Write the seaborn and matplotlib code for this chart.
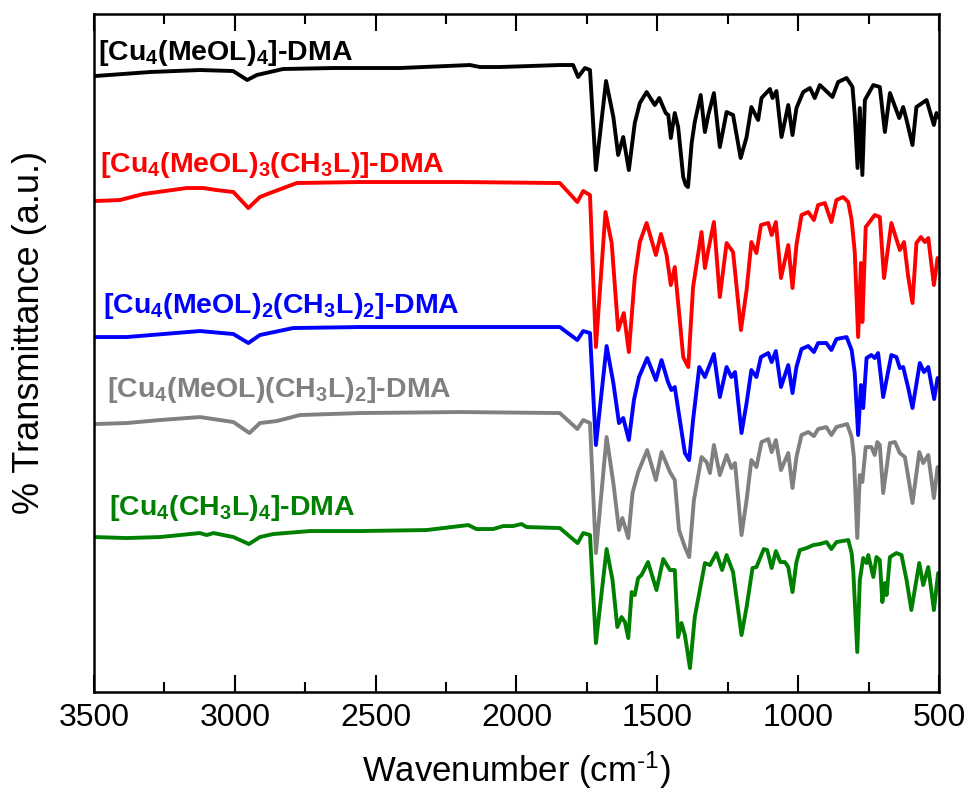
import numpy as np
import pandas as pd
import matplotlib
matplotlib.use("Agg")
import matplotlib.pyplot as plt
import seaborn as sns

# ---------------- data (wavenumber cm-1, transmittance a.u.) ----------------
black_w = [3496, 3301, 3124, 3006, 2956, 2922, 2829, 2651, 2414, 2165, 2130, 2059, 1846, 1799, 1781, 1757, 1739,
           1718, 1682, 1656, 1639, 1621, 1601, 1580, 1562, 1538, 1509, 1493, 1470, 1461, 1452, 1438, 1426, 1408,
           1399, 1391, 1378, 1367, 1346, 1331, 1319, 1299, 1278, 1254, 1231, 1204, 1183, 1166, 1142, 1130, 1100,
           1091, 1077, 1059, 1035, 1020, 1006, 982, 958, 941, 923, 878, 858, 828, 816, 807, 799, 789, 781, 772,
           763, 733, 710, 692, 674, 641, 627, 615, 594, 580, 544, 518, 509, 500]
black_t = [616, 620, 622, 621, 612, 617, 623, 624, 624, 627, 625, 625, 627, 627, 615, 624, 622,
           522, 611, 575, 537, 555, 522, 569, 589, 600, 587, 594, 579, 577, 554, 579, 565, 515,
           507, 505, 549, 570, 597, 560, 577, 599, 545, 580, 577, 534, 555, 585, 572, 594, 603,
           594, 601, 555, 587, 557, 584, 600, 604, 594, 607, 595, 610, 614, 609, 605, 577, 524, 584, 517,
           592, 607, 605, 560, 599, 574, 585, 572, 547, 585, 592, 567, 579, 574]

red_w = [3496, 3408, 3325, 3171, 3112, 3065, 3005, 2952, 2911, 2875, 2780, 2556, 2201, 1846, 1784, 1763, 1739,
         1718, 1684, 1662, 1639, 1619, 1601, 1580, 1562, 1538, 1505, 1487, 1467, 1452, 1438, 1408, 1390, 1373,
         1343, 1331, 1319, 1299, 1278, 1254, 1231, 1203, 1183, 1166, 1148, 1132, 1106, 1094, 1079, 1061, 1035,
         1020, 1006, 988, 964, 944, 929, 905, 882, 864, 840, 822, 810, 799, 787, 777, 772, 760, 728, 710, 695,
         669, 639, 624, 609, 594, 580, 564, 550, 538, 518, 505]
red_t = [491, 492, 498, 504, 504, 502, 500, 484, 495, 499, 509, 510, 510, 509, 490, 501, 497,
         345, 480, 449, 362, 379, 340, 415, 450, 469, 437, 458, 437, 407, 425, 335, 325, 405,
         460, 424, 442, 470, 395, 449, 440, 362, 402, 450, 439, 467, 469, 457, 470, 414, 447,
         404, 447, 477, 480, 472, 487, 489, 470, 492, 495, 490, 472, 440, 355, 429, 370, 465, 477, 475, 414,
         469, 442, 450, 415, 389, 449, 455, 450, 454, 407, 434]

blue_w = [3496, 3384, 3124, 3005, 2952, 2911, 2793, 2556, 1846, 1784, 1763, 1739, 1718, 1680, 1656, 1636, 1621,
          1601, 1583, 1565, 1536, 1505, 1485, 1462, 1450, 1438, 1420, 1402, 1387, 1373, 1351, 1331, 1299, 1278,
          1254, 1237, 1224, 1201, 1183, 1166, 1148, 1132, 1106, 1094, 1079, 1061, 1035, 1020, 1006, 988, 964,
          944, 929, 900, 882, 864, 828, 810, 799, 787, 777, 769, 757, 740, 728, 716, 698, 669, 651, 639, 627,
          609, 594, 568, 553, 538, 517, 505]
blue_t = [355, 355, 361, 358, 349, 357, 364, 365, 365, 352, 361, 359, 247, 346, 309, 269, 274,
          252, 292, 315, 334, 312, 332, 310, 302, 305, 272, 239, 232, 272, 325, 315, 338, 295,
          325, 315, 320, 259, 289, 322, 315, 335, 339, 330, 341, 305, 327, 299, 325, 343, 346,
          340, 349, 349, 342, 353, 355, 342, 319, 257, 307, 284, 334, 337, 334, 339, 295, 337, 335, 324, 325,
          304, 284, 329, 320, 325, 293, 314]

gray_w = [3496, 3384, 3266, 3124, 3005, 2948, 2911, 2851, 2769, 2556, 2201, 1846, 1784, 1763, 1739, 1718, 1680,
          1656, 1636, 1624, 1603, 1588, 1568, 1536, 1505, 1485, 1455, 1438, 1423, 1402, 1387, 1370, 1343, 1325,
          1313, 1299, 1278, 1254, 1237, 1224, 1201, 1183, 1166, 1148, 1130, 1106, 1094, 1079, 1061, 1035, 1020,
          1006, 988, 964, 944, 929, 900, 882, 864, 826, 810, 802, 790, 781, 772, 760, 740, 728, 719, 710, 698,
          674, 656, 639, 621, 609, 594, 570, 556, 538, 518, 505]
gray_t = [268, 269, 272, 275, 270, 259, 269, 271, 277, 279, 280, 279, 263, 272, 269, 139, 255,
          209, 162, 174, 154, 199, 220, 242, 212, 240, 220, 212, 162, 145, 135, 192, 235, 230,
          219, 247, 217, 237, 224, 229, 157, 192, 232, 225, 250, 253, 240, 252, 222, 239, 204,
          235, 257, 260, 256, 263, 265, 257, 265, 268, 255, 235, 154, 217, 210, 245, 245, 237, 250, 247, 199,
          249, 250, 239, 235, 215, 189, 240, 229, 237, 194, 225]

green_w = [3496, 3384, 3266, 3124, 3100, 3076, 3005, 2950, 2911, 2864, 2733, 2556, 2319, 2171, 2142, 2083, 2047,
           2012, 1982, 1964, 1846, 1783, 1763, 1739, 1718, 1680, 1659, 1642, 1627, 1615, 1603, 1591, 1580, 1568,
           1556, 1533, 1503, 1479, 1455, 1438, 1426, 1414, 1402, 1384, 1367, 1331, 1313, 1290, 1270, 1254, 1231,
           1201, 1183, 1162, 1148, 1122, 1110, 1094, 1079, 1063, 1047, 1035, 1020, 1006, 994, 970, 946, 923, 899,
           882, 864, 822, 810, 804, 790, 781, 769, 757, 751, 733, 722, 710, 701, 692, 686, 674, 651, 633, 615,
           598, 570, 556, 538, 518, 503]
green_t = [155, 154, 155, 159, 157, 159, 155, 148, 155, 158, 161, 161, 162, 167, 163, 163, 166,
           166, 168, 165, 164, 149, 159, 157, 49, 143, 112, 65, 75, 70, 54, 100, 97, 114,
           117, 130, 102, 133, 122, 122, 55, 69, 57, 24, 75, 129, 127, 139, 122, 137, 120,
           57, 85, 124, 125, 143, 142, 124, 141, 130, 130, 125, 100, 130, 142, 144, 147, 148, 150,
           143, 150, 152, 139, 120, 40, 112, 134, 129, 137, 115, 135, 132, 90, 109, 97, 135, 139, 137, 112,
           82, 129, 107, 125, 82, 119]

series_names = ["[Cu$_\\mathbf{4}$(MeOL)$_\\mathbf{4}$]-DMA",
                "[Cu$_\\mathbf{4}$(MeOL)$_\\mathbf{3}$(CH$_\\mathbf{3}$L)]-DMA",
                "[Cu$_\\mathbf{4}$(MeOL)$_\\mathbf{2}$(CH$_\\mathbf{3}$L)$_\\mathbf{2}$]-DMA",
                "[Cu$_\\mathbf{4}$(MeOL)(CH$_\\mathbf{3}$L)$_\\mathbf{2}$]-DMA",
                "[Cu$_\\mathbf{4}$(CH$_\\mathbf{3}$L)$_\\mathbf{4}$]-DMA"]
series_colors = ["#000000", "#FF0000", "#0000FF", "#808080", "#008000"]
xticks = [3500, 3000, 2500, 2000, 1500, 1000, 500]

# ---------------- build table ----------------
all_w = [black_w, red_w, blue_w, gray_w, green_w]
all_t = [black_t, red_t, blue_t, gray_t, green_t]
frames = []
for name, w, t in zip(series_names, all_w, all_t):
    frames.append(pd.DataFrame({"wavenumber": w, "T": t, "sample": name}))
df = pd.concat(frames, ignore_index=True)

# ---------------- style ----------------
sns.set_style("ticks")
plt.rcParams["font.family"] = ["Liberation Sans", "DejaVu Sans"]
plt.rcParams["mathtext.fontset"] = "custom"
plt.rcParams["mathtext.rm"] = "Liberation Sans"
plt.rcParams["mathtext.bf"] = "Liberation Sans:bold"
plt.rcParams["mathtext.it"] = "Liberation Sans:italic"
plt.rcParams["text.color"] = "black"
plt.rcParams["axes.labelcolor"] = "black"
plt.rcParams["xtick.color"] = "black"
plt.rcParams["ytick.color"] = "black"
plt.rcParams["axes.unicode_minus"] = False

fig = plt.figure(figsize=(9.7, 8.01), dpi=100)
ax = fig.add_axes([0.0969, 0.136, 0.8711, 0.8465])

palette = dict(zip(series_names, series_colors))
sns.lineplot(data=df, x="wavenumber", y="T", hue="sample", palette=palette,
             estimator=None, sort=False, linewidth=2.8, legend=False, ax=ax)

ax.set_xlim(3500, 500)
ax.set_ylim(0, 678)
ax.set_xticks(xticks)
ax.set_xticks(np.arange(500, 3501, 250), minor=True)
ax.set_yticks([])
ax.tick_params(axis="x", which="major", direction="in", length=12, width=1.5,
               top=True, labelsize=23, pad=8, colors="black")
ax.tick_params(axis="x", which="minor", direction="in", length=7, width=1.5, top=True)
for s in ax.spines.values():
    s.set_visible(True)
    s.set_linewidth(1.8)
    s.set_color("black")

ax.set_xlabel("Wavenumber (cm$^{\\text{-1}}$)", fontsize=25, labelpad=12)
ax.set_ylabel("% Transmittance (a.u.)", fontsize=26)
ax.yaxis.set_label_coords(-0.056, 0.531)

# labels
label_pos = [(3486, 632), (3479, 520), (3468, 379), (3454, 295), (3447, 177)]
for name, col, (lx, ly) in zip(series_names, series_colors, label_pos):
    ax.text(lx, ly, name, color=col, fontsize=20.5, fontweight="bold",
            ha="left", va="baseline")

fig.savefig("out.png", dpi=100)
